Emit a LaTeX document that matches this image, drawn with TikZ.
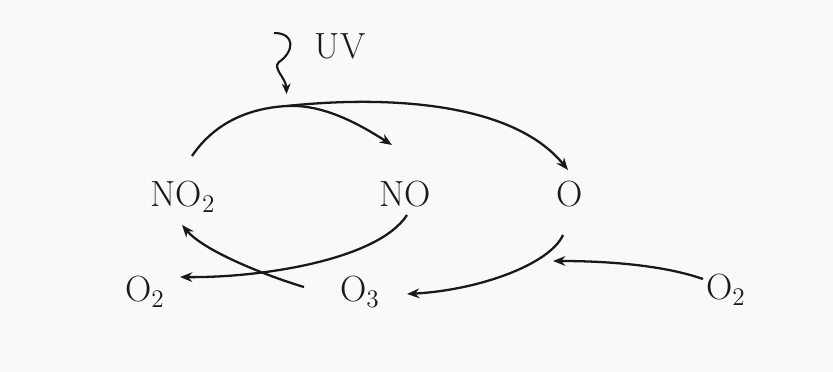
\documentclass[tikz,border=0pt]{standalone}
\usepackage{amsmath}
\usetikzlibrary{arrows.meta}

\begin{document}
\begin{tikzpicture}[
  x=0.02cm,
  y=0.02cm,
  species/.style={font=\huge, anchor=base, inner sep=0pt, text=black!90},
  reaction/.style={line width=1.3pt, black!90, -{Stealth[length=7pt,width=5.5pt]}},
  light/.style={line width=1.2pt, black!90, -{Stealth[length=6pt,width=5pt]}}
]

% Page
\fill[gray!5] (0,0) rectangle (833,372);
\useasboundingbox (0,0) rectangle (833,372);

% Species
\node[species] (NOtwo) at (183,165) {NO$_2$};
\node[species] (NO)    at (405,165) {NO};
\node[species] (O)     at (570,165) {O};
\node[species] (Otwol) at (145,70)  {O$_2$};
\node[species] (Othree) at (360,70) {O$_3$};
\node[species] (Otwor) at (726,72)  {O$_2$};
\node[species] (UV)    at (340,313) {UV};

% Branch points
\coordinate (split) at (287,266);
\coordinate (hit)   at (553,111);
\coordinate (photon) at (274,339);

% Photon
\draw[light, shorten >=0.24cm] (photon)
  .. controls (296,339) and (294,320) .. (279,310)
  .. controls (272,304) and (286,294) .. (split);

% Photolysis of NO2
\draw[reaction] ([shift={(9,51)}]NOtwo.base)
  .. controls (215,250) and (250,264) .. (split)
  .. controls (325,268) and (362,246) .. ([shift={(-13,62)}]NO.base);
\draw[reaction] (split)
  .. controls (380,276) and (511,272) .. ([shift={(-2,37)}]O.base);

% Ozone formation
\draw[reaction] ([shift={(-7,-28)}]O.base)
  .. controls (550,108) and (480,82) .. ([shift={(47,8)}]Othree.base);
\draw[reaction] ([shift={(-23,21)}]Otwor.base)
  .. controls (660,108) and (600,111) .. (hit);

% Ozone titration
\draw[reaction] ([shift={(2,-8)}]NO.base)
  .. controls (378,112) and (260,94) .. ([shift={(35,25)}]Otwol.base);
\draw[reaction] ([shift={(-56,15)}]Othree.base)
  .. controls (270,95) and (205,120) .. ([shift={(-1,-18)}]NOtwo.base);

\end{tikzpicture}
\end{document}
